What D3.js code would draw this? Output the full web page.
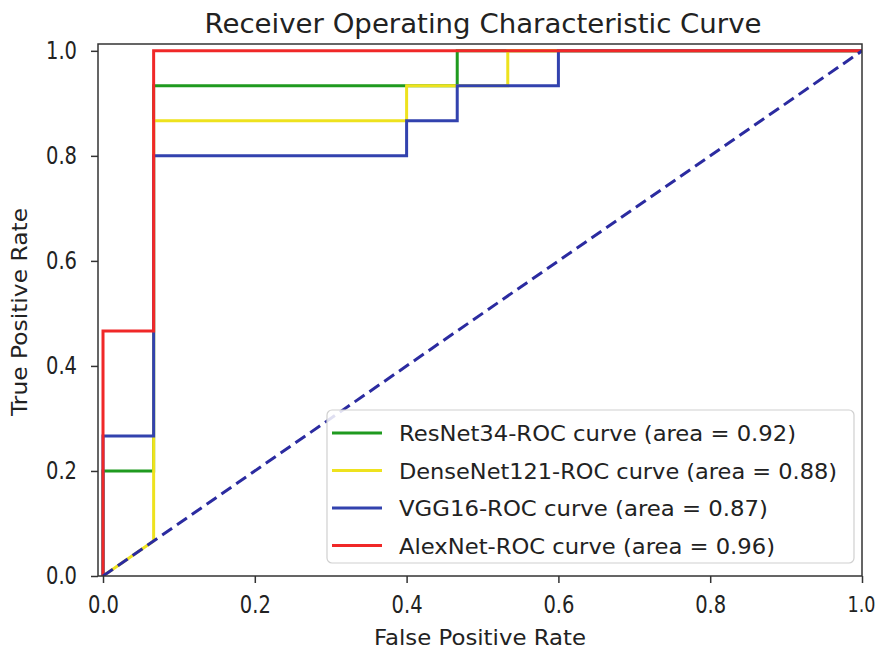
<!DOCTYPE html>
<html>
<head>
<meta charset="utf-8">
<script src="https://cdn.jsdelivr.net/npm/d3@7"></script>
<style>
  body { margin: 0; background: #fff; }
  svg { display: block; }
  text { font-family: "DejaVu Sans", sans-serif; fill: #222; }
</style>
</head>
<body>
<svg id="chart" width="882" height="654"></svg>
<script>
// ---- data ----
const seriesNames = ["ResNet34-ROC curve (area = 0.92)", "DenseNet121-ROC curve (area = 0.88)", "VGG16-ROC curve (area = 0.87)", "AlexNet-ROC curve (area = 0.96)"];
const seriesColors = ["#1f9a1f", "#eee21e", "#3242ae", "#f02828"];
const resnetFPR = [0, 0, 0.0667, 0.0667, 0.4667, 0.4667, 1];
const resnetTPR = [0, 0.2, 0.2, 0.9333, 0.9333, 1, 1];
const densenetFPR = [0, 0.0667, 0.0667, 0.4, 0.4, 0.5333, 0.5333, 1];
const densenetTPR = [0, 0.0667, 0.8667, 0.8667, 0.9333, 0.9333, 1, 1];
const vggFPR = [0, 0, 0.0667, 0.0667, 0.4, 0.4, 0.4667, 0.4667, 0.6, 0.6, 1];
const vggTPR = [0, 0.2667, 0.2667, 0.8, 0.8, 0.8667, 0.8667, 0.9333, 0.9333, 1, 1];
const alexFPR = [0, 0, 0.0667, 0.0667, 1];
const alexTPR = [0, 0.4667, 0.4667, 1, 1];
const diagX = [0, 1];
const diagY = [0, 1];
const xTicks = [0, 0.2, 0.4, 0.6, 0.8, 1.0];
const yTicks = [0, 0.2, 0.4, 0.6, 0.8, 1.0];
const titleText = "Receiver Operating Characteristic Curve";
const xLabel = "False Positive Rate";
const yLabel = "True Positive Rate";

const seriesX = [resnetFPR, densenetFPR, vggFPR, alexFPR];
const seriesY = [resnetTPR, densenetTPR, vggTPR, alexTPR];

// ---- layout ----
const L = 98, R = 862, T = 44, B = 576;
const svg = d3.select("#chart");
const x = d3.scaleLinear().domain([-0.0066, 1.0]).range([L, R]);
const y = d3.scaleLinear().domain([0, 1.013]).range([B, T]);

svg.append("clipPath").attr("id", "clip")
  .append("rect").attr("x", L).attr("y", T).attr("width", R - L).attr("height", B - T);

const line = d3.line().x(d => x(d[0])).y(d => y(d[1]));
const plot = svg.append("g").attr("clip-path", "url(#clip)");

seriesX.forEach((xs, i) => {
  const pts = xs.map((v, j) => [v, seriesY[i][j]]);
  plot.append("path").datum(pts).attr("d", line)
    .attr("fill", "none").attr("stroke", seriesColors[i]).attr("stroke-width", 3)
    .attr("stroke-linejoin", "miter").attr("stroke-linecap", "butt");
});
plot.append("path").datum(diagX.map((v, j) => [v, diagY[j]])).attr("d", line)
  .attr("fill", "none").attr("stroke", "#2b2ba0").attr("stroke-width", 3)
  .attr("stroke-dasharray", "12,6");

// axes
const xAxis = d3.axisBottom(x).tickValues(xTicks).tickFormat(d3.format(".1f")).tickSize(7).tickPadding(13);
const yAxis = d3.axisLeft(y).tickValues(yTicks).tickFormat(d3.format(".1f")).tickSize(7).tickPadding(14);
const gx = svg.append("g").attr("transform", `translate(0,${B})`).call(xAxis);
const gy = svg.append("g").attr("transform", `translate(${L},0)`).call(yAxis);
[gx, gy].forEach(g => {
  g.select(".domain").remove();
  g.selectAll(".tick line").attr("stroke", "#333").attr("stroke-width", 1.5);
  g.selectAll(".tick text").attr("font-size", 24).attr("fill", "#222")
    .attr("font-family", "DejaVu Sans, sans-serif")
    .attr("textLength", 31).attr("lengthAdjust", "spacingAndGlyphs");
});
gx.selectAll(".tick text").filter(d => d === 1)
  .attr("text-anchor", "end").attr("x", 13).attr("font-size", 22).attr("textLength", 28);

// frame
svg.append("rect").attr("x", L).attr("y", T).attr("width", R - L).attr("height", B - T)
  .attr("fill", "none").attr("stroke", "#333").attr("stroke-width", 1.5);

// title & labels
svg.append("text").attr("x", 483).attr("y", 33).attr("text-anchor", "middle")
  .attr("font-size", 26).attr("textLength", 557).attr("lengthAdjust", "spacingAndGlyphs").text(titleText);
svg.append("text").attr("x", 480).attr("y", 645).attr("text-anchor", "middle")
  .attr("font-size", 21).attr("textLength", 212).attr("lengthAdjust", "spacingAndGlyphs").text(xLabel);
svg.append("text").attr("transform", "translate(27,312) rotate(-90)").attr("text-anchor", "middle")
  .attr("font-size", 21).attr("textLength", 208).attr("lengthAdjust", "spacingAndGlyphs").text(yLabel);

// legend
const lg = svg.append("g");
lg.append("rect").attr("x", 327).attr("y", 410).attr("width", 527).attr("height", 153)
  .attr("rx", 5).attr("fill", "#fff").attr("fill-opacity", 0.85).attr("stroke", "#d0d0d0").attr("stroke-width", 1.2);
const legendLens = [397, 438, 369, 376];
seriesNames.forEach((n, i) => {
  const cy = 433 + i * 37.5;
  lg.append("line").attr("x1", 332).attr("x2", 382).attr("y1", cy).attr("y2", cy)
    .attr("stroke", seriesColors[i]).attr("stroke-width", 3);
  lg.append("text").attr("x", 399).attr("y", cy + 8).attr("font-size", 21)
    .attr("textLength", legendLens[i]).attr("lengthAdjust", "spacingAndGlyphs").text(n);
});
</script>
</body>
</html>
